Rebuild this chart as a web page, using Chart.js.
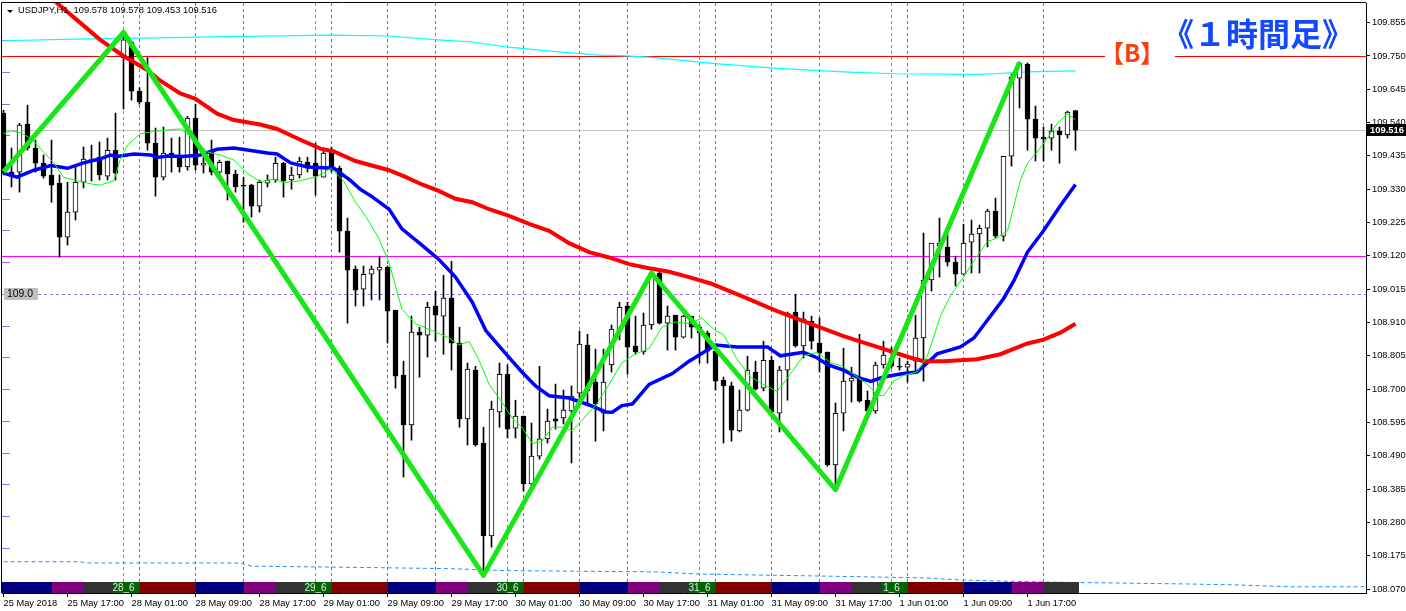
<!DOCTYPE html>
<html>
<head>
<meta charset="utf-8">
<style>
  html, body { margin: 0; padding: 0; background: #fff; }
  canvas { display: block; }
</style>
</head>
<body>
<canvas id="myChart" width="1406" height="611"></canvas>
<script src="https://cdn.jsdelivr.net/npm/chart.js@4.4.1/dist/chart.umd.min.js"></script>
<script>
  // USDJPY H1, bar 0 = 25 May 09:00, bar 134 = 1 Jun 23:00
  const opens = [109.570,109.384,109.384,109.535,109.460,109.412,109.375,109.349,109.179,109.258,
    109.352,109.422,109.431,109.371,109.453,109.745,109.794,109.639,109.605,109.475,
    109.368,109.444,109.438,109.400,109.554,109.406,109.447,109.384,109.419,109.378,
    109.343,109.343,109.277,109.349,109.359,109.412,109.359,109.375,109.415,109.412,
    109.368,109.450,109.397,109.198,109.078,109.015,109.062,109.075,109.085,108.949,
    108.744,108.587,108.880,108.870,108.962,108.930,108.987,108.845,108.606,108.760,
    108.530,108.237,108.628,108.747,108.577,108.615,108.401,108.489,108.543,108.606,
    108.609,108.631,108.687,108.839,108.722,108.624,108.776,108.883,108.962,108.836,
    108.817,108.902,109.066,108.908,108.933,108.864,108.930,108.895,108.877,108.820,
    108.728,108.710,108.568,108.634,108.754,108.703,108.791,108.624,108.760,108.943,
    108.836,108.914,108.845,108.817,108.461,108.624,108.725,108.731,108.665,108.631,
    108.776,108.798,108.772,108.769,108.788,108.861,109.044,109.151,109.148,109.100,
    109.062,109.163,109.189,109.207,109.261,109.182,109.434,109.680,109.724,109.551,
    109.494,109.491,109.513,109.501,109.578];
  const highs = [109.579,109.460,109.538,109.595,109.485,109.438,109.485,109.375,109.352,109.403,
    109.463,109.469,109.479,109.491,109.570,109.813,109.797,109.650,109.745,109.523,
    109.526,109.491,109.494,109.560,109.598,109.453,109.485,109.422,109.419,109.390,
    109.368,109.346,109.359,109.375,109.431,109.415,109.400,109.431,109.431,109.475,
    109.456,109.463,109.403,109.239,109.088,109.088,109.088,109.119,109.088,108.949,
    108.788,108.930,108.895,108.974,109.009,109.059,109.103,108.895,108.782,108.772,
    108.580,108.662,108.782,108.776,108.665,108.615,108.593,108.772,108.637,108.716,
    108.697,108.710,108.883,108.873,108.826,108.826,108.902,108.974,108.974,108.930,
    108.940,109.066,109.069,108.962,108.933,108.933,108.930,108.902,108.883,108.823,
    108.738,108.722,108.697,108.804,108.788,108.851,108.804,108.772,108.943,108.999,
    108.943,108.930,108.924,108.817,108.656,108.829,108.769,108.873,108.694,108.785,
    108.851,108.832,108.798,108.788,108.933,109.192,109.160,109.239,109.189,109.119,
    109.220,109.233,109.217,109.267,109.302,109.434,109.693,109.731,109.728,109.592,
    109.526,109.535,109.526,109.576,109.578];
  const lows = [109.375,109.337,109.321,109.453,109.384,109.365,109.289,109.116,109.154,109.233,
    109.334,109.356,109.359,109.359,109.359,109.583,109.611,109.598,109.453,109.308,
    109.359,109.384,109.384,109.390,109.390,109.381,109.375,109.375,109.296,109.321,
    109.226,109.242,109.258,109.337,109.352,109.305,109.330,109.365,109.384,109.311,
    109.368,109.384,109.132,108.908,108.962,108.962,108.981,108.981,108.845,108.703,
    108.423,108.539,108.738,108.801,108.851,108.810,108.760,108.580,108.524,108.520,
    108.108,108.202,108.580,108.546,108.546,108.379,108.379,108.479,108.530,108.574,
    108.590,108.467,108.669,108.647,108.536,108.568,108.754,108.855,108.747,108.810,
    108.810,108.889,108.905,108.823,108.823,108.861,108.861,108.782,108.782,108.697,
    108.530,108.536,108.565,108.631,108.697,108.694,108.624,108.565,108.665,108.832,
    108.798,108.826,108.754,108.457,108.379,108.568,108.659,108.659,108.624,108.624,
    108.766,108.766,108.760,108.722,108.754,108.725,109.009,109.053,109.088,109.025,
    109.062,109.066,109.066,109.148,109.176,109.167,109.403,109.586,109.453,109.419,
    109.419,109.453,109.412,109.491,109.453];
  const closes = [109.381,109.371,109.532,109.460,109.412,109.371,109.343,109.179,109.258,109.352,
    109.425,109.425,109.375,109.453,109.381,109.801,109.639,109.605,109.475,109.368,
    109.444,109.438,109.400,109.554,109.406,109.412,109.384,109.415,109.378,109.337,
    109.340,109.277,109.352,109.359,109.412,109.356,109.375,109.419,109.397,109.371,
    109.444,109.397,109.198,109.075,109.012,109.062,109.078,109.085,108.946,108.741,
    108.587,108.880,108.870,108.958,108.933,108.987,108.845,108.606,108.763,108.524,
    108.237,108.637,108.747,108.574,108.615,108.401,108.489,108.543,108.599,108.599,
    108.634,108.678,108.842,108.694,108.653,108.722,108.889,108.958,108.832,108.817,
    108.902,109.066,108.908,108.930,108.864,108.930,108.895,108.877,108.820,108.725,
    108.710,108.571,108.634,108.760,108.700,108.791,108.628,108.760,108.940,108.836,
    108.921,108.851,108.813,108.461,108.624,108.725,108.735,108.662,108.631,108.776,
    108.807,108.772,108.769,108.779,108.861,109.044,109.160,109.160,109.100,109.062,
    109.160,109.189,109.207,109.261,109.182,109.434,109.683,109.728,109.551,109.491,
    109.488,109.513,109.501,109.573,109.516];

  // indicator lines: [bar, price]
  const redMa = [[0,110.060],[9.2,109.863],[12.1,109.801],[15,109.750],[18,109.705],[19.6,109.672],
    [22.1,109.632],[24,109.615],[26.7,109.568],[28.8,109.548],[32.1,109.534],[34.2,109.520],
    [37.1,109.486],[39.6,109.458],[41.3,109.449],[44,109.419],[48.2,109.390],[50.3,109.368],
    [52.3,109.345],[54.4,109.325],[56.5,109.300],[58.6,109.289],[60.7,109.267],[63.2,109.246],
    [65.7,109.221],[68.2,109.199],[70.7,109.160],[73.2,109.132],[75.7,109.115],[78.2,109.094],
    [80.7,109.081],[83.2,109.070],[85.7,109.053],[88.4,109.033],[92.5,108.991],[96.7,108.946],
    [100.9,108.906],[105,108.867],[109.2,108.833],[113.4,108.799],[115,108.788],[117.5,108.788],
    [121.7,108.794],[124.6,108.810],[128,108.844],[130,108.856],[132.1,108.878],[134,108.906]];
  const blueMa = [[0,109.381],[1.7,109.368],[3.8,109.390],[5.9,109.405],[8,109.396],[10,109.413],
    [12.1,109.426],[13.4,109.438],[14.2,109.433],[16.3,109.441],[18.4,109.438],[19.2,109.430],
    [20.5,109.435],[22.5,109.433],[24.6,109.438],[26.7,109.456],[28.8,109.460],[30.9,109.452],
    [33,109.444],[34.2,109.441],[35.9,109.413],[38,109.400],[41.3,109.396],[43.4,109.357],
    [44.6,109.330],[46.1,109.306],[48.2,109.267],[49.8,109.205],[52.3,109.154],[54.4,109.109],
    [56.5,109.053],[58.6,108.974],[60.3,108.884],[62.8,108.811],[64.8,108.754],[66.5,108.710],
    [68.2,108.679],[70.7,108.672],[73.2,108.650],[75.3,108.628],[76.1,108.627],[77.3,108.648],
    [78.6,108.653],[80.7,108.715],[83.6,108.749],[85.7,108.788],[89,108.839],[91.7,108.833],
    [95.5,108.833],[97.1,108.805],[100,108.816],[101.7,108.799],[103,108.777],[105,108.760],
    [106.7,108.738],[108.4,108.724],[110,108.738],[112.5,108.749],[114.2,108.754],[115.5,108.783],
    [116.7,108.811],[119.6,108.833],[121.3,108.861],[123,108.918],[125,108.985],[126.3,109.042],
    [128,109.132],[130,109.199],[132.1,109.278],[134,109.345]];
  const fastMa = [[0,109.505],[0.9,109.514],[2.1,109.508],[3.4,109.491],[5,109.447],[6.3,109.413],
    [7.5,109.368],[9.2,109.357],[11.3,109.345],[12.1,109.343],[13.8,109.357],[14.6,109.424],
    [15.5,109.469],[17.1,109.505],[18.8,109.512],[20.5,109.517],[22.1,109.520],[23.4,109.497],
    [24.6,109.469],[25.5,109.447],[27.1,109.438],[28.8,109.422],[30.5,109.379],[32.1,109.354],
    [33.8,109.362],[35,109.351],[37.1,109.357],[39.2,109.370],[40.9,109.396],[42.5,109.357],
    [44,109.289],[45.3,109.244],[46.9,109.176],[48.2,109.098],[49.8,108.952],[51.5,108.906],
    [53.6,108.884],[55.7,108.861],[56.9,108.839],[58.2,108.850],[59.4,108.794],[60.7,108.715],
    [62.3,108.659],[63.6,108.608],[64.8,108.580],[66.1,108.529],[67.3,108.535],[68.6,108.580],
    [69.8,108.580],[71.1,108.569],[72.3,108.602],[74,108.648],[75.7,108.715],[77.3,108.783],
    [79,108.811],[80.7,108.828],[82.3,108.895],[84,108.912],[85.7,108.906],[87.3,108.923],
    [89,108.884],[90,108.872],[91.7,108.794],[93.4,108.738],[95,108.715],[96.7,108.693],
    [98.4,108.749],[100,108.805],[101.7,108.816],[103.4,108.783],[105,108.771],[106.7,108.738],
    [108,108.715],[109.2,108.681],[110,108.679],[111.3,108.726],[112.5,108.743],[114.2,108.754],
    [115.5,108.805],[117.1,108.929],[118.4,108.996],[120,109.053],[121.7,109.120],[123,109.165],
    [124.2,109.176],[125.5,109.199],[126.3,109.278],[127.1,109.357],[128,109.413],[129.2,109.447],
    [130.5,109.491],[131.7,109.537],[133,109.568],[134,109.548]];
  const cyanLine = [[0,109.798],[9,109.803],[19,109.807],[28,109.811],[41,109.816],[48,109.813],
    [54.4,109.801],[58.6,109.794],[62.8,109.779],[69,109.764],[74.4,109.753],[77.3,109.751],
    [81.5,109.745],[85.7,109.734],[89,109.726],[96.7,109.711],[105,109.700],[111.3,109.694],
    [121.7,109.692],[123.8,109.694],[128,109.700],[134,109.703]];
  const lowBand = [[0,108.156],[9.6,108.156],[10.3,108.152],[29.6,108.152],[31,108.142],
    [44.6,108.138],[56,108.134],[62.7,108.128],[81.5,108.124],[87,108.117],[102,108.111],
    [115,108.105],[120,108.098],[130,108.092],[147.7,108.086],[154,108.083],[160.9,108.077],[170.4,108.077]];
  const zigzag = [[0,109.385],[15,109.824],[60,108.113],[81,109.066],[104,108.383],[127,109.730]];

  // axis labels
  const timeTickIdx = [0,8,16,24,32,40,48,56,64,72,80,88,96,104,112,120,128];
  const timeLabels = ['25 May 2018','25 May 17:00','28 May 01:00','28 May 09:00','28 May 17:00',
    '29 May 01:00','29 May 09:00','29 May 17:00','30 May 01:00','30 May 09:00','30 May 17:00',
    '31 May 01:00','31 May 09:00','31 May 17:00','1 Jun 01:00','1 Jun 09:00','1 Jun 17:00'];
  const priceTicks = [108.070,108.175,108.280,108.385,108.490,108.595,108.700,108.805,108.910,
    109.015,109.120,109.225,109.330,109.435,109.540,109.645,109.750,109.855];

  // levels and separators
  const levelB = 109.750;
  const levelMagenta = 109.120;
  const levelRound = 109.0;
  const lastPrice = 109.516;
  const leftMarks = [109.8,109.7,109.6,109.5,109.4,109.3,109.2,109.1,109.0,108.9,108.8,108.7,108.6,108.5,108.4,108.3,108.2];
  const dayLines = [15, 39, 63, 87, 111];
  const dayNames = ['28_6', '29_6', '30_6', '31_6', '1_6'];
  const sessionLines = [17,24,30,41,48,54,65,72,78,89,96,102,113,120,130];
  const sessionColors = { n: '#000080', p: '#800080', g: '#333333', v: '#006400', r: '#800000' };
  const sessions = [[-2,6,'n'],[6,10,'p'],[10,13.75,'g'],[13.75,17,'v'],
    [17,24,'r'],[24,30,'n'],[30,34,'p'],[34,37.75,'g'],[37.75,41,'v'],
    [41,48,'r'],[48,54,'n'],[54,58,'p'],[58,61.75,'g'],[61.75,65,'v'],
    [65,72,'r'],[72,78,'n'],[78,82,'p'],[82,85.75,'g'],[85.75,89,'v'],
    [89,96,'r'],[96,102,'n'],[102,106,'p'],[106,109.75,'g'],[109.75,113,'v'],
    [113,120,'r'],[120,126,'n'],[126,130,'p'],[130,134.4,'g']];

  const X_MIN = -0.1875, X_MAX = X_MIN + 170.5;
  const Y_MIN = 108.0574, Y_MAX = 109.917;
  const FONT = "'Liberation Sans', Arial, sans-serif";

  const bars = opens.map((o, i) => i);
  const toXY = arr => arr.map(p => ({ x: p[0], y: p[1] }));

  const overlay = {
    id: 'overlay',
    beforeDatasetsDraw(chart) {
      const { ctx, chartArea: a, scales: { x, y } } = chart;
      const vx = i => Math.floor(x.getPixelForValue(i)) + 0.5;
      const hy = v => Math.round(y.getPixelForValue(v)) + 0.5;
      ctx.save();
      ctx.beginPath();
      ctx.rect(a.left, a.top, a.width, a.height);
      ctx.clip();
      ctx.lineWidth = 1;
      ctx.setLineDash([3, 3]);
      ctx.strokeStyle = '#ff4500';
      sessionLines.forEach(i => { ctx.beginPath(); ctx.moveTo(vx(i), a.top); ctx.lineTo(vx(i), a.bottom); ctx.stroke(); });
      ctx.strokeStyle = '#9370db';
      dayLines.forEach(i => { ctx.beginPath(); ctx.moveTo(vx(i), a.top); ctx.lineTo(vx(i), a.bottom); ctx.stroke(); });
      ctx.beginPath(); ctx.moveTo(a.left, hy(levelRound)); ctx.lineTo(a.right, hy(levelRound)); ctx.stroke();
      ctx.setLineDash([]);
      [[lastPrice, '#c0c0c0'], [levelB, '#ff0000'], [levelMagenta, '#ff00ff']].forEach(([v, c]) => {
        ctx.strokeStyle = c;
        ctx.beginPath(); ctx.moveTo(a.left, hy(v)); ctx.lineTo(a.right, hy(v)); ctx.stroke();
      });
      ctx.strokeStyle = '#9370db';
      leftMarks.forEach(v => { ctx.beginPath(); ctx.moveTo(a.left, hy(v)); ctx.lineTo(a.left + 8, hy(v)); ctx.stroke(); });
      ctx.restore();
    },
    afterDatasetsDraw(chart) {
      const { ctx, chartArea: a, scales: { x } } = chart;
      ctx.save();
      const top = a.bottom - 11;
      sessions.forEach(([s, e, c]) => {
        const x0 = Math.max(a.left, Math.round(x.getPixelForValue(s)));
        const x1 = Math.round(x.getPixelForValue(e));
        ctx.fillStyle = sessionColors[c];
        ctx.fillRect(x0, top, x1 - x0, 11);
      });
      ctx.fillStyle = '#e6e6e6';
      ctx.font = '10px ' + FONT;
      ctx.textAlign = 'center';
      ctx.textBaseline = 'middle';
      dayLines.forEach((i, k) => ctx.fillText(dayNames[k], x.getPixelForValue(i), top + 6));
      ctx.restore();
    },
    afterDraw(chart) {
      const { ctx, chartArea: a, scales: { y } } = chart;
      ctx.save();
      // frame left/top
      ctx.strokeStyle = '#000';
      ctx.lineWidth = 1;
      ctx.beginPath();
      ctx.moveTo(a.left - 0.5, a.bottom);
      ctx.lineTo(a.left - 0.5, a.top - 0.5);
      ctx.lineTo(a.right, a.top - 0.5);
      ctx.stroke();
      // header
      ctx.fillStyle = '#000';
      ctx.beginPath(); ctx.moveTo(7, 10); ctx.lineTo(13, 10); ctx.lineTo(10, 13); ctx.closePath(); ctx.fill();
      ctx.font = '9.4px ' + FONT;
      ctx.textBaseline = 'middle';
      ctx.textAlign = 'left';
      ctx.fillText('USDJPY,H1  ' + [opens[134], highs[134], lows[134], closes[134]].map(v => v.toFixed(3)).join(' '), 18, 10.5);
      // title
      ctx.font = 'bold 32px "Noto Sans CJK JP"';
      ctx.fillStyle = '#1448ff';
      ctx.fillText('《１時間足》', 1162, 34);
      // B label
      const by = Math.round(y.getPixelForValue(levelB));
      ctx.fillStyle = '#fff';
      ctx.fillRect(1105, by - 10, 70, 20);
      ctx.font = 'bold 24px "Noto Sans CJK JP"';
      ctx.fillStyle = '#ff3c0a';
      ctx.fillText('【B】', 1100, by - 3);
      // round level tag
      const ry = Math.round(y.getPixelForValue(levelRound));
      ctx.fillStyle = '#c0c0c0';
      ctx.fillRect(a.left + 2, ry - 6, 34, 12);
      ctx.fillStyle = '#000';
      ctx.font = '10.4px ' + FONT;
      ctx.fillText(levelRound.toFixed(1), a.left + 5, ry + 0.5);
      // last price tag
      const py = Math.round(y.getPixelForValue(lastPrice));
      ctx.fillStyle = '#000';
      ctx.fillRect(a.right, py - 6, 40, 12);
      ctx.fillStyle = '#fff';
      ctx.font = 'bold 9.4px ' + FONT;
      ctx.fillText(lastPrice.toFixed(3), a.right + 4, py + 0.5);
      ctx.restore();
    }
  };

  const ctx = document.getElementById('myChart').getContext('2d');
  const myChart = new Chart(ctx, {
    type: 'bar',
    data: {
      datasets: [
        { type: 'line', data: toXY(zigzag), borderColor: '#19e619', borderWidth: 5, pointRadius: 0, borderJoinStyle: 'round', order: 0 },
        { type: 'line', data: toXY(fastMa), borderColor: '#00ff00', borderWidth: 1, pointRadius: 0, order: 1 },
        { type: 'line', data: toXY(redMa), borderColor: '#ff0000', borderWidth: 4, pointRadius: 0, order: 2 },
        { type: 'line', data: toXY(blueMa), borderColor: '#0000ff', borderWidth: 3.5, pointRadius: 0, order: 3 },
        { type: 'bar', data: bars.map(i => ({ x: i, y: [opens[i], closes[i]] })),
          backgroundColor: bars.map(i => closes[i] >= opens[i] ? '#ffffff' : '#000000'),
          borderColor: '#000', borderWidth: 1, borderSkipped: false, barThickness: 5, minBarLength: 1, grouped: false, order: 4 },
        { type: 'bar', data: bars.map(i => ({ x: i, y: [lows[i], highs[i]] })),
          backgroundColor: '#000', borderWidth: 0, barThickness: 1, grouped: false, order: 5 },
        { type: 'line', data: toXY(cyanLine), borderColor: '#00ffff', borderWidth: 1.2, pointRadius: 0, order: 6 },
        { type: 'line', data: toXY(lowBand), borderColor: '#1e90ff', borderWidth: 1, borderDash: [4, 3], pointRadius: 0, order: 7 }
      ]
    },
    options: {
      responsive: false,
      animation: false,
      devicePixelRatio: 1,
      events: [],
      layout: { padding: { left: 2, top: 3, right: 0, bottom: 0 } },
      plugins: { legend: { display: false }, tooltip: { enabled: false } },
      font: { family: FONT },
      scales: {
        x: {
          type: 'linear', min: X_MIN, max: X_MAX, offset: false, bounds: 'data',
          grid: { display: true, drawOnChartArea: false, drawTicks: true, tickLength: 4, color: '#000', tickColor: '#000', offset: false },
          border: { display: true, color: '#000' },
          ticks: { autoSkip: false, maxRotation: 0, align: 'start', padding: 1, color: '#000',
            font: { family: FONT, size: 9.3 }, callback: (v, i) => timeLabels[i] },
          afterBuildTicks: s => { s.ticks = timeTickIdx.map(v => ({ value: v })); },
          afterFit: s => { s.height = 18; s.paddingLeft = 0; s.paddingRight = 0; }
        },
        y: {
          type: 'linear', position: 'right', min: Y_MIN, max: Y_MAX, beginAtZero: false, bounds: 'data',
          grid: { display: true, drawOnChartArea: false, drawTicks: true, tickLength: 4, color: '#000', tickColor: '#000' },
          border: { display: true, color: '#000' },
          ticks: { padding: 2, color: '#000', font: { family: FONT, size: 9.3 }, callback: v => v.toFixed(3) },
          afterBuildTicks: s => { s.ticks = priceTicks.map(v => ({ value: v })); },
          afterFit: s => { s.width = 40; s.paddingTop = 0; s.paddingBottom = 0; }
        }
      }
    },
    plugins: [overlay]
  });
</script>
</body>
</html>
